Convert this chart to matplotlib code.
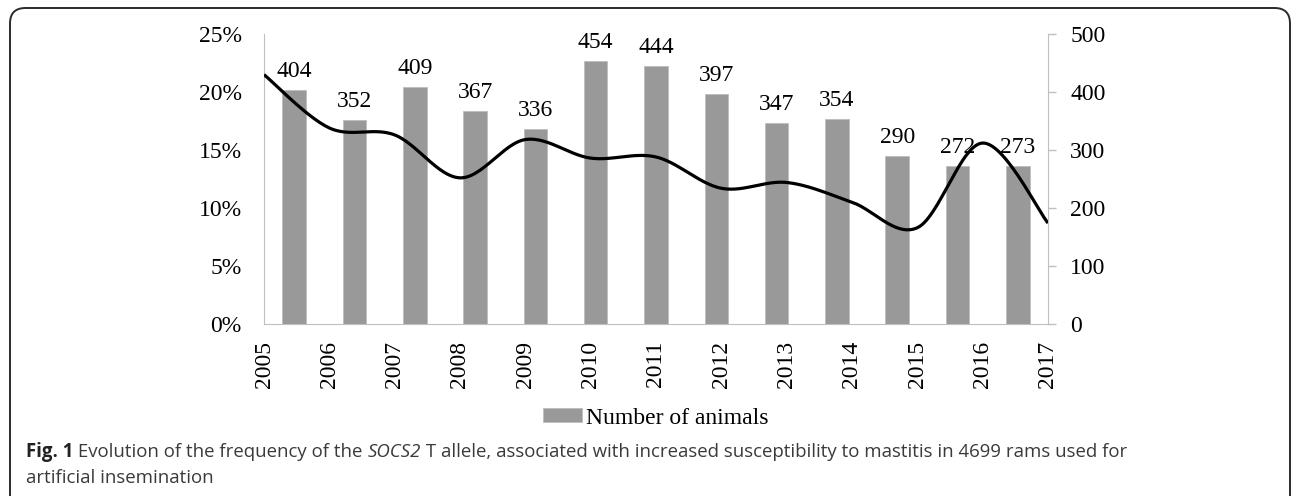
import numpy as np
import matplotlib.pyplot as plt
from matplotlib.patches import FancyBboxPatch

# data
years = [2005, 2006, 2007, 2008, 2009, 2010, 2011, 2012, 2013, 2014, 2015, 2016, 2017]
animals = [404, 352, 409, 367, 336, 454, 444, 397, 347, 354, 290, 272, 273]
freq_t = [0.215, 0.169, 0.163, 0.126, 0.159, 0.143, 0.144, 0.117, 0.122, 0.105, 0.083, 0.156, 0.087]

W, H = 1292, 496
fig = plt.figure(figsize=(W / 100, H / 100), dpi=100)
serif = 'Liberation Serif'
fs = 17


def smooth(x, y, n=30):
    """Excel-like smoothed line (Catmull-Rom through the points)"""
    x = np.asarray(x, float)
    y = np.asarray(y, float)
    px = np.concatenate([[x[0]], x, [x[-1]]])
    py = np.concatenate([[y[0]], y, [y[-1]]])
    xs, ys = [], []
    t = np.linspace(0, 1, n)
    for i in range(1, len(px) - 2):
        p0, p1, p2, p3 = [np.array([px[j], py[j]]) for j in (i - 1, i, i + 1, i + 2)]
        c1 = p1 + (p2 - p0) / 6
        c2 = p2 - (p3 - p1) / 6
        b = ((1 - t) ** 3)[:, None] * p1 + (3 * (1 - t) ** 2 * t)[:, None] * c1 \
            + (3 * (1 - t) * t ** 2)[:, None] * c2 + (t ** 3)[:, None] * p2
        xs.extend(b[:, 0])
        ys.extend(b[:, 1])
    return np.array(xs), np.array(ys)


rect = [264 / W, 1 - 324 / H, 784 / W, 290 / H]

# bars on their own category axis, right-hand scale
axb = fig.add_axes(rect)
idx = np.arange(len(animals))
bars = axb.bar(idx, animals, width=0.39, color='#999999', edgecolor='#bdbdbd',
               linewidth=0.6, label='Number of animals', zorder=2)
axb.set_xlim(-0.5, len(animals) - 0.5)
axb.set_ylim(0, 500)
axb.set_xticks([])
axb.yaxis.tick_right()
axb.set_yticks([0, 100, 200, 300, 400, 500])
axb.tick_params(axis='y', length=6, width=1, color='#bfbfbf', pad=10, labelsize=fs)
for lab in axb.get_yticklabels():
    lab.set_fontfamily(serif)
for s in ['top', 'left']:
    axb.spines[s].set_visible(False)
axb.spines['right'].set_color('#bfbfbf')
axb.spines['bottom'].set_color('#bfbfbf')
for i, v in enumerate(animals):
    axb.annotate(str(v), (i, v), xytext=(0, 9.4), textcoords='offset points',
                 ha='center', va='baseline', fontsize=fs, fontfamily=serif)

# line on top, percentage scale
axl = fig.add_axes(rect, zorder=3)
axl.patch.set_visible(False)
sx, sy = smooth(years, freq_t)
axl.plot(sx, sy, color='black', lw=2.3, solid_capstyle='butt', zorder=4)
axl.set_xlim(years[0], years[-1])
axl.set_ylim(0, 0.25)
axl.set_xticks(years)
axl.set_xticklabels([str(y) for y in years], rotation=90, fontsize=fs, fontfamily=serif)
axl.set_yticks([0, 0.05, 0.10, 0.15, 0.20, 0.25])
axl.set_yticklabels(['0%', '5%', '10%', '15%', '20%', '25%'], fontsize=fs, fontfamily=serif)
axl.tick_params(axis='x', length=0, pad=12)
axl.tick_params(axis='y', length=0, pad=16)
for s in ['top', 'right', 'bottom']:
    axl.spines[s].set_visible(False)
axl.spines['left'].set_color('#bfbfbf')

fig.legend(handles=[bars], labels=['Number of animals'], loc='center',
           bbox_to_anchor=(656 / W, 1 - 418 / H), frameon=False,
           prop={'family': serif, 'size': fs}, handlelength=1.65,
           handleheight=0.51, handletextpad=0.17)

# rounded frame around the figure panel
frame = FancyBboxPatch((10 / W, -0.1), (1290 - 10) / W, (1 - 8 / H) + 0.1,
                       boxstyle='round,pad=0,rounding_size=0.012',
                       transform=fig.transFigure, fill=False,
                       edgecolor='#2b2b2b', lw=1.4, mutation_aspect=W / H)
fig.patches.append(frame)

# caption, written piece by piece
cap_font = 'Open Sans'
cap_col = '#3a3a3a'
fig.canvas.draw()
r = fig.canvas.get_renderer()
parts = [('Fig. 1', 'bold', 'normal'),
         (' Evolution of the frequency of the ', 'normal', 'normal'),
         ('SOCS2', 'normal', 'italic'),
         (' T allele, associated with increased susceptibility to mastitis in 4699 rams used for', 'normal', 'normal')]
x0 = 26 / W
y1 = 1 - 452 / H
for txt, wt, st in parts:
    t = fig.text(x0, y1, txt, fontsize=13.4, fontfamily=cap_font, fontweight=wt,
                 fontstyle=st, color='#222222' if wt == 'bold' else cap_col, va='center')
    bb = t.get_window_extent(renderer=r)
    x0 = bb.x1 / W
fig.text(26 / W, 1 - 478 / H, 'artificial insemination', fontsize=13.4,
         fontfamily=cap_font, color=cap_col, va='center')

fig.savefig('out.png', dpi=100)
